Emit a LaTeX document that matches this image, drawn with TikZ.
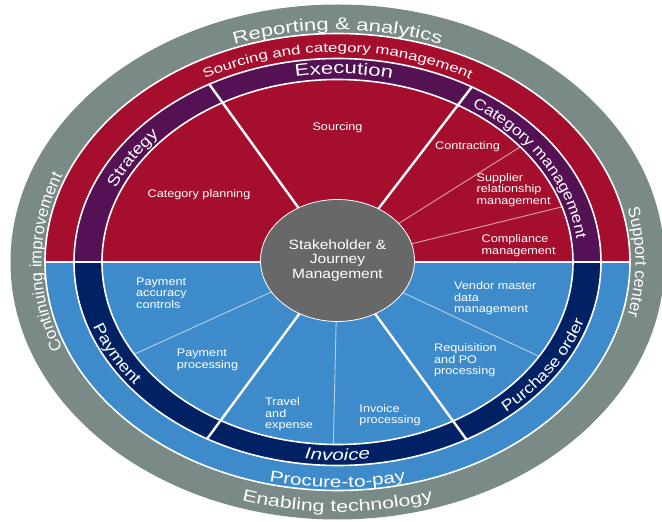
\documentclass[tikz,border=0pt]{standalone}
\usepackage{fontspec}
\setmainfont[FakeStretch=1.15]{Liberation Sans}
\newfontfamily\ringfont[FakeStretch=1.3]{Liberation Sans}
\newfontfamily\sidefont{Liberation Sans}
\usetikzlibrary{shapes.geometric,decorations.text}
\definecolor{ringgray}{RGB}{122,138,135}
\definecolor{scmred}{RGB}{165,15,45}
\definecolor{scmpurple}{RGB}{84,18,84}
\definecolor{ptpblue}{RGB}{62,139,204}
\definecolor{ptpnavy}{RGB}{0,33,99}
\definecolor{hubgray}{RGB}{104,104,104}
\tikzset{
  ringline/.style  = {draw=white, line width=1.6pt},
  spoke/.style     = {white, line width=2.4pt},
  thinspoke/.style = {white, opacity=0.6, line width=0.9pt},
  hub/.style       = {ellipse, fill=hubgray, draw=white, line width=0.8pt,
                      minimum width=154pt, minimum height=122pt, inner sep=0pt,
                      align=center, text=white, font=\fontsize{13.5}{14.5}\selectfont},
  task/.style      = {inner sep=0pt, align=left, text=white,
                      font=\fontsize{11}{11.5}\selectfont}
}
\newcommand{\HalfRings}[4]{%
  % fills the top half of the ellipse
  \fill[#3] (#1,0) arc[start angle=0, end angle=180, x radius=#1, y radius=#2] -- cycle;
  % fills the bottom half of the ellipse
  \fill[#4] (#1,0) arc[start angle=0, end angle=-180, x radius=#1, y radius=#2] -- cycle;
  % draws the white border
  \draw[ringline] (0,0) ellipse[x radius=#1, y radius=#2];
}
\newcommand{\RingText}[6]{%
  % writes text #6 along the elliptic arc from angle #4 to angle #5
  \path[decorate, decoration={text along path, text align=center, text color=white,
      text={|#1|#6}}]
    (#4:#2 and #3) arc[start angle=#4, end angle=#5, x radius=#2, y radius=#3];
}

\begin{document}
\begin{tikzpicture}[x=1pt,y=1pt]
    \useasboundingbox (-337.5,-260) rectangle (324.5,262);

    % outer grey ring
    \fill[ringgray] (0,0) ellipse[x radius=327, y radius=257.5];

    \HalfRings{292.5}{228.5}{scmred}{ptpblue}
    \HalfRings{263.5}{203.5}{scmpurple}{ptpnavy}
    \HalfRings{235.5}{182.5}{scmred}{ptpblue}

    % line between sourcing and procure-to-pay
    \draw[white, line width=2pt] (-292.5,0) -- (292.5,0);

    % spokes through the process ring
    \begin{scope}
      \clip (0,0) ellipse[x radius=263.5, y radius=203.5];
      \draw[spoke] (0,0) -- (125.8:400);
      \draw[spoke] (0,0) -- (52.5:400);
      \draw[spoke] (0,0) -- (233.6:400);
      \draw[spoke] (0,0) -- (306:400);
    \end{scope}

    % thin spokes inside the ring
    \begin{scope}
      \clip (0,0) ellipse[x radius=235.5, y radius=182.5];
      \draw[thinspoke] (0,0) -- (32.2:400);
      \draw[thinspoke] (0,0) -- (13.8:400);
      \draw[thinspoke] (0,0) -- (204.4:400);
      \draw[thinspoke] (0,0) -- (268.7:400);
      \draw[thinspoke] (0,0) -- (334.9:400);
    \end{scope}

    \node[hub] (hub) at (0,1.5) {Stakeholder \&\\Journey\\Management};

    % sourcing and category management
    \node[task] (sourcing) at (0,134) {Sourcing};
    \node[task] (catplan) at (-138.5,67) {Category planning};
    \node[task] (contract) at (130,115) {Contracting};
    \node[task, anchor=west] (supplier) at (139,72) {Supplier\\relationship\\management};
    \node[task, anchor=west] (comply) at (144,16.5) {Compliance\\management};

    % procure-to-pay
    \node[task, anchor=west] (payacc) at (-201.5,-31) {Payment\\accuracy\\controls};
    \node[task, anchor=west] (payproc) at (-160.8,-98) {Payment\\processing};
    \node[task, anchor=west] (travel) at (-72.5,-152.5) {Travel\\and\\expense};
    \node[task, anchor=west] (invproc) at (21.8,-153.3) {Invoice\\processing};
    \node[task, anchor=west] (requis) at (96.5,-98.5) {Requisition\\and PO\\processing};
    \node[task, anchor=west] (vendor) at (116.5,-36.3) {Vendor master\\data\\management};

    % ring texts
    \RingText{\ringfont\fontsize{17}{17}\selectfont}{296}{232}{150}{30}{Reporting {\&} analytics}
    \RingText{\sidefont\fontsize{16.5}{16.5}\selectfont}{296}{232}{210}{150}{Continuing improvement}
    \RingText{\sidefont\fontsize{16.5}{16.5}\selectfont}{298}{232}{30}{-30}{Support center}
    \RingText{\ringfont\fontsize{16.5}{16.5}\selectfont}{320}{250}{250}{290}{Enabling technology}
    \RingText{\ringfont\fontsize{13}{13}\selectfont}{270}{210}{150}{30}{Sourcing and category management}
    \RingText{\ringfont\fontsize{16}{16}\selectfont}{289}{225.5}{250}{290}{Procure-to-pay}
    \RingText{\ringfont\fontsize{17}{17}\selectfont}{241}{188}{148.2}{28.2}{Execution}
    \RingText{\fontsize{16}{16}\selectfont}{241}{188}{168}{128}{Strategy}
    \RingText{\fontsize{15}{15}\selectfont}{241}{188}{61}{1}{Category management}
    \RingText{\fontsize{16}{16}\selectfont}{258.5}{198.5}{188}{228}{Payment}
    \RingText{\ringfont\itshape\fontsize{16}{16}\selectfont}{258.5}{198.5}{250}{290}{Invoice}
    \RingText{\fontsize{15.5}{15.5}\selectfont}{258.5}{198.5}{307}{347}{Purchase order}
\end{tikzpicture}
\end{document}
